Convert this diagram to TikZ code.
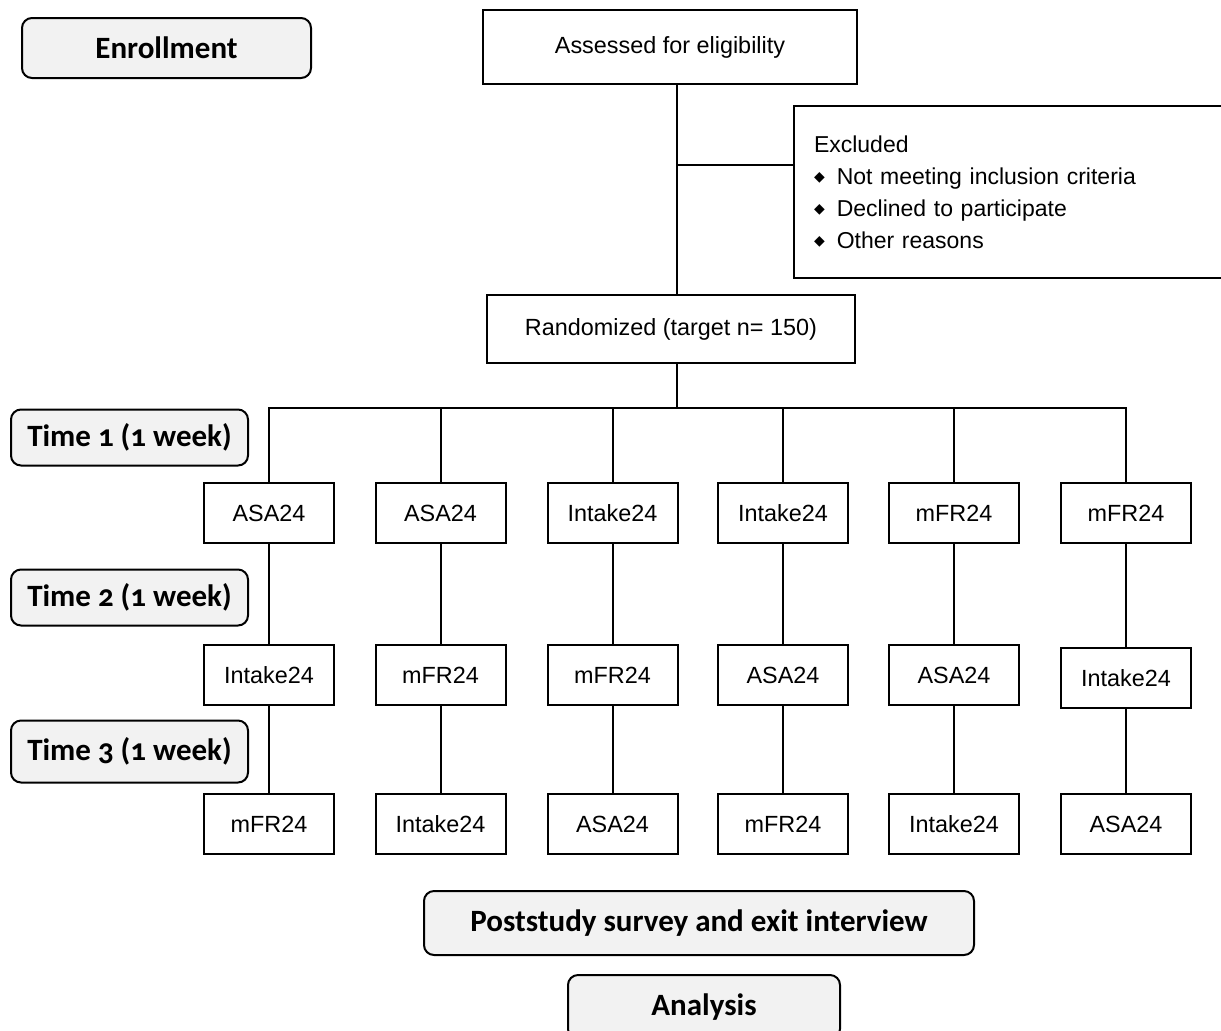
\documentclass[tikz,border=0pt]{standalone}
\usepackage{fontspec}
\setmainfont{Liberation Sans}
\newfontfamily\phasefont{Carlito}[Numbers=OldStyle]
\newfontfamily\symfont{DejaVu Sans}
\definecolor{phasegray}{HTML}{F2F2F2}
\newcommand{\bulletitem}{{\symfont\fontsize{7}{7}\selectfont\raisebox{1.5pt}{◆}}\hspace{6pt}}

\begin{document}
\begin{tikzpicture}[x=0.5pt, y=-0.5pt, line width=1pt,
    box/.style = {draw, rectangle, minimum width=65pt, minimum height=30pt, font=\fontsize{11.7}{14}\selectfont},
    phase/.style = {draw, rounded corners=5pt, fill=phasegray, font=\phasefont\bfseries\fontsize{15.5}{18}\selectfont}]
            \useasboundingbox (0,0) rectangle (1221,1030);
            \clip (0,0) rectangle (1221,1030);

            % phases
            \node[phase, minimum width=144.5pt, minimum height=30pt] (enroll) at (166.5,48) {Enrollment};
            \node[phase, minimum width=118.5pt, minimum height=28pt] (time1) at (129.5,437.5) {Time 1 (1 week)};
            \node[phase, minimum width=118.5pt, minimum height=28pt] (time2) at (129.5,597.5) {Time 2 (1 week)};
            \node[phase, minimum width=118.5pt, minimum height=31pt] (time3) at (129.5,751.5) {Time 3 (1 week)};
            \node[phase, minimum width=275pt, minimum height=32pt] (exit) at (699,923) {Poststudy survey and exit interview};
            \node[phase, minimum width=136pt, minimum height=32pt] (analysis) at (704,1007) {Analysis};

            % enrollment
            \node[box, minimum width=187pt, minimum height=37pt] (assess) at (670,47) {Assessed for eligibility};
            \node[box, minimum width=230pt, minimum height=86pt, anchor=north west, align=left,
                  text width=210pt, inner xsep=10pt, font=\fontsize{11.5}{16}\selectfont] (excl) at (793,105)
                  {Excluded\\ \bulletitem Not meeting inclusion criteria\\ \bulletitem Declined to participate\\ \bulletitem Other reasons};
            \node[box, minimum width=184pt, minimum height=34pt] (rand) at (671,329) {Randomized (target n= 150)};
            \coordinate (split) at (677,165);
            \coordinate (bar) at (677,408);

            % time 1
            \node[box] (a1) at (269,513) {ASA24};
            \node[box] (a2) at (440.5,513) {ASA24};
            \node[box] (a3) at (612.5,513) {Intake24};
            \node[box] (a4) at (783,513) {Intake24};
            \node[box] (a5) at (954,513) {mFR24};
            \node[box] (a6) at (1126,513) {mFR24};
            % time 2
            \node[box] (b1) at (269,675) {Intake24};
            \node[box] (b2) at (440.5,675) {mFR24};
            \node[box] (b3) at (612.5,675) {mFR24};
            \node[box] (b4) at (783,675) {ASA24};
            \node[box] (b5) at (954,675) {ASA24};
            \node[box] (b6) at (1126,678) {Intake24};
            % time 3
            \node[box] (c1) at (269,824) {mFR24};
            \node[box] (c2) at (440.5,824) {Intake24};
            \node[box] (c3) at (612.5,824) {ASA24};
            \node[box] (c4) at (783,824) {mFR24};
            \node[box] (c5) at (954,824) {Intake24};
            \node[box] (c6) at (1126,824) {ASA24};

            % flow lines
            \draw (assess.south -| split) -- (rand.north -| split);
            \draw (split) -- (excl.west |- split);
            \draw (rand.south -| bar) -- (bar);
            \draw (a1.north) |- (bar);
            \draw (a2.north) |- (bar);
            \draw (a3.north) |- (bar);
            \draw (a4.north) |- (bar);
            \draw (a5.north) |- (bar);
            \draw (a6.north) |- (bar);
            \draw (a1) -- (b1); \draw (b1) -- (c1);
            \draw (a2) -- (b2); \draw (b2) -- (c2);
            \draw (a3) -- (b3); \draw (b3) -- (c3);
            \draw (a4) -- (b4); \draw (b4) -- (c4);
            \draw (a5) -- (b5); \draw (b5) -- (c5);
            \draw (a6) -- (b6); \draw (b6) -- (c6);
        \end{tikzpicture}
\end{document}
